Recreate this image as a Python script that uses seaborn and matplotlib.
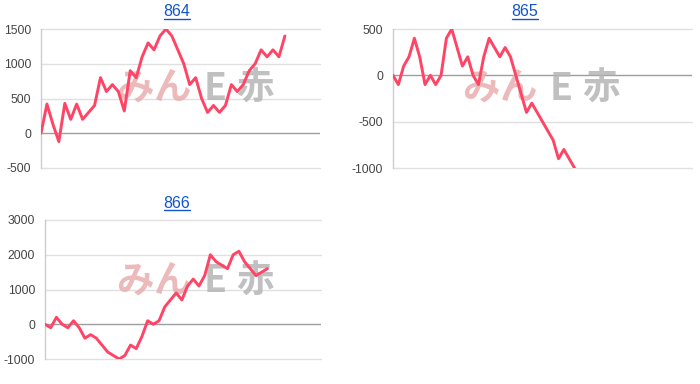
import numpy as np
import pandas as pd
import matplotlib
matplotlib.use("Agg")
import matplotlib.pyplot as plt
import seaborn as sns
from matplotlib.lines import Line2D

# ---- data ----
titles = ["864", "865", "866"]
s864 = [0, 420, 130, -120, 430, 200, 420, 200, 300, 400, 800, 600, 700, 600, 320,
        900, 800, 1100, 1300, 1200, 1400, 1500, 1400, 1200, 1000, 700, 800, 500, 300,
        400, 300, 400, 700, 600, 700, 900, 1000, 1200, 1100, 1200, 1100, 1400]
s865 = [0, -100, 100, 200, 400, 200, -100, 0, -100, 0, 400, 500, 300, 100, 200, 0,
        -100, 200, 400, 300, 200, 300, 200, 0, -200, -400, -300, -400, -500, -600,
        -700, -900, -800, -900, -1000]
s866 = [0, -100, 200, 0, -100, 100, -100, -400, -300, -400, -600, -800, -900, -1000,
        -900, -600, -700, -350, 100, 0, 100, 500, 700, 900, 700, 1100, 1300, 1100,
        1400, 2000, 1800, 1700, 1600, 2000, 2100, 1800, 1600, 1400, 1500, 1600]
yticks864 = [-500, 0, 500, 1000, 1500]
yticks865 = [-1000, -500, 0, 500]
yticks866 = [-1000, 0, 1000, 2000, 3000]
watermark_chars = ["み", "ん", "E", "赤"]

series = [s864, s865, s866]
yticks = [yticks864, yticks865, yticks866]
xmax = [46.9, 56.0, 48.4]

# ---- layout (pixels) ----
W, H = 700, 384
boxes = [(41, 320, 29, 168), (393, 692, 29, 168), (45, 321, 220, 359)]
title_pos = [(177, 12), (525, 12), (177, 203)]
wm_pos = [(195, 88), (541, 88), (195, 281)]
wm_offsets = [-60, -22, 20, 60]
wm_colors = ["#e9aeae", "#e9aeae", "#b5b5b5", "#b5b5b5"]

sns.set_theme(style="white")
plt.rcParams['font.family'] = ['Liberation Sans', 'Noto Sans CJK JP', 'DejaVu Sans']

fig = plt.figure(figsize=(W / 100, H / 100), dpi=100)
fig.patch.set_facecolor("white")

LINE = "#ff4466"
link = "#1155cc"
axes = []
for i in range(3):
    l, r, t, b = boxes[i]
    ax = fig.add_axes([l / W, 1 - b / H, (r - l) / W, (b - t) / H])
    df = pd.DataFrame({"x": np.arange(len(series[i])), "y": series[i]})
    sns.lineplot(data=df, x="x", y="y", ax=ax, color=LINE, linewidth=2.1, zorder=5)
    ax.set_xlim(0, xmax[i])
    ax.set_ylim(min(yticks[i]), max(yticks[i]))
    ax.set_yticks(yticks[i])
    ax.set_yticklabels([str(v) for v in yticks[i]])
    ax.set_xticks([])
    ax.set_xlabel("")
    ax.set_ylabel("")
    ax.tick_params(axis="y", length=0, pad=7, labelsize=8.7, labelcolor="#444444")
    for sp in ["top", "right", "bottom"]:
        ax.spines[sp].set_visible(False)
    ax.spines["left"].set_color("#cccccc")
    ax.spines["left"].set_linewidth(1)
    for v in yticks[i]:
        if v == 0:
            ax.axhline(0, color="#9e9e9e", lw=1, zorder=2)
        else:
            ax.axhline(v, color="#e0e0e0", lw=1, zorder=1, clip_on=False)
    ax.set_facecolor("none")
    # watermark
    cx, cy = wm_pos[i]
    for ch, off, col in zip(watermark_chars, wm_offsets, wm_colors):
        ax.text((cx + off) / W, 1 - cy / H, ch, transform=fig.transFigure,
                ha="center", va="center", fontsize=27, fontweight="bold",
                color=col, alpha=0.85, family=["Noto Sans CJK JP"], zorder=3)
    axes.append(ax)

# titles with underline
texts = []
for i in range(3):
    tx, ty = title_pos[i]
    t = fig.text(tx / W, 1 - ty / H, titles[i], ha="center", va="center",
                 fontsize=11.5, color=link)
    texts.append(t)

fig.canvas.draw()
renderer = fig.canvas.get_renderer()
for t in texts:
    bb = t.get_window_extent(renderer)
    y = bb.y0 + 1
    fig.add_artist(Line2D([bb.x0 / W, bb.x1 / W], [y / H, y / H],
                          transform=fig.transFigure, color=link, lw=1))

fig.savefig("out.png", dpi=100, facecolor="white")
